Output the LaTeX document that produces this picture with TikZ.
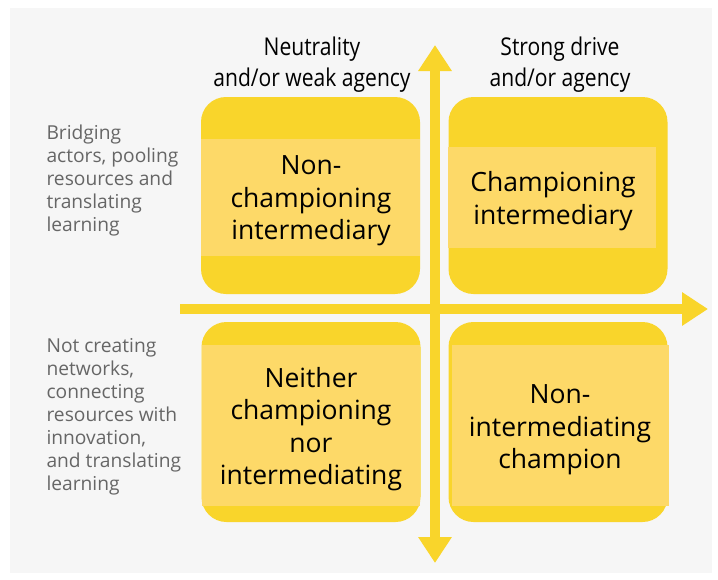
\documentclass[tikz,border=0pt]{standalone}
\usepackage{xcolor}
\usepackage{fontspec}
\setmainfont{Open Sans}
\newfontfamily\headfont[FakeStretch=0.86]{Open Sans}
\usetikzlibrary{arrows.meta,positioning}
\definecolor{panelgray}{HTML}{F6F6F6}
\definecolor{boxyellow}{HTML}{F9D52B}
\definecolor{bandyellow}{HTML}{FDD968}
\definecolor{sidegray}{HTML}{666666}
\tikzset{
  quadbox/.style={rectangle, rounded corners=25pt, fill=boxyellow, minimum width=219pt, minimum height=197pt, inner sep=0pt},
  band/.style={fill=bandyellow},
  boxtext/.style={align=center, font=\fontsize{26.5}{32.5}\selectfont, text=black},
  headtext/.style={align=center, font=\headfont\fontsize{24.5}{31}\selectfont, text=black},
  sidetext/.style={align=left, anchor=north west, font=\fontsize{19.2}{23}\selectfont, text=sidegray},
  axis/.style={boxyellow, line width=10pt, -{Triangle[length=26pt,width=32pt]}}
}

\begin{document}
\begin{tikzpicture}[x=1pt,y=-1pt]
    \useasboundingbox (0,0) rectangle (718,579);
    % grey panel behind everything
    \fill[panelgray] (10,8) rectangle (712,573);

    % the four boxes
    \node[quadbox] (tl) at (310.5,195.5) {};
    \node[quadbox] (tr) at (558,195.5) {};
    \node[quadbox, minimum height=200pt] (bl) at (311,422) {};
    \node[quadbox, minimum height=200pt] (br) at (558,422) {};

    % lighter bands across the boxes
    \fill[band] (201,139) rectangle (420,256);
    \fill[band] (448,147) rectangle (656,248);
    \fill[band] (202,345) rectangle (420,506);
    \fill[band] (452,345) rectangle (669,506);

    % box labels
    \node[boxtext] (tltext) at (311,201) {Non-\\championing\\intermediary};
    \node[boxtext] (trtext) at (553,201) {Championing\\intermediary};
    \node[boxtext] (bltext) at (311,429) {Neither\\championing\\nor\\intermediating};
    \node[boxtext] (brtext) at (560,430) {Non-\\intermediating\\champion};

    % the two axes
    \coordinate (xstart) at (180,309);
    \coordinate (xend) at (708,309);
    \coordinate (ymid) at (435,309);
    \coordinate (ytop) at (435,45);
    \coordinate (ybottom) at (435,563);
    \draw[axis] (ymid) -- (ytop);
    \draw[axis] (ymid) -- (ybottom);
    \draw[axis] (xstart) -- (xend);

    % headings above the columns
    \node[headtext] (lefthead) at (312,65) {Neutrality\\and/or weak agency};
    \node[headtext] (righthead) at (560,65) {Strong drive\\and/or agency};

    % labels for the rows
    \node[sidetext] (toprow) at (43,121) {Bridging\\actors, pooling\\resources and\\translating\\learning};
    \node[sidetext] (bottomrow) at (43,335) {Not creating\\networks,\\connecting\\resources with\\innovation,\\and translating\\learning};
\end{tikzpicture}
\end{document}
